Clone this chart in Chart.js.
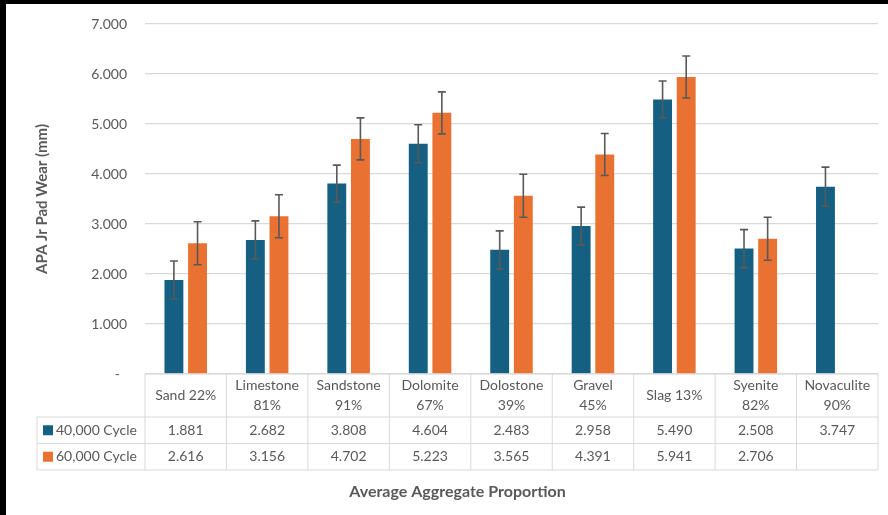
<!DOCTYPE html>
<html>
<head>
<meta charset="utf-8">
<script src="https://cdn.jsdelivr.net/npm/chart.js@4"></script>
<style>
  html, body { margin: 0; padding: 0; background: #000; }
  #wrap { position: absolute; left: 6px; top: 4px; width: 882px; height: 511px; background: #fff; }
</style>
</head>
<body>
<div id="wrap"><canvas id="chart" width="882" height="511"></canvas></div>
<script>
// Data
const categories = [
  ['Sand 22%'], ['Limestone', '81%'], ['Sandstone', '91%'], ['Dolomite', '67%'],
  ['Dolostone', '39%'], ['Gravel', '45%'], ['Slag 13%'], ['Syenite', '82%'], ['Novaculite', '90%']
];
const seriesNames = ['40,000 Cycle', '60,000 Cycle'];
const wear40k = [1.881, 2.682, 3.808, 4.604, 2.483, 2.958, 5.490, 2.508, 3.747];
const wear60k = [2.616, 3.156, 4.702, 5.223, 3.565, 4.391, 5.941, 2.706, null];
const err40k = [0.38, 0.38, 0.37, 0.38, 0.38, 0.38, 0.37, 0.38, 0.39];
const err60k = [0.43, 0.43, 0.42, 0.42, 0.43, 0.42, 0.42, 0.43, null];
const yTicks = [0, 1, 2, 3, 4, 5, 6, 7];

const colors = ['#156082', '#E97132'];
const textGray = '#595959';
const lineGray = '#d9d9d9';
const fontFamily = 'Lato, "Open Sans", sans-serif';

// error bars drawn over each bar
const errorBars = {
  id: 'errorBars',
  afterDatasetsDraw(chart) {
    const ctx = chart.ctx;
    const y = chart.scales.y;
    ctx.save();
    ctx.strokeStyle = '#595959';
    ctx.lineWidth = 1.6;
    chart.data.datasets.forEach((ds, di) => {
      const meta = chart.getDatasetMeta(di);
      meta.data.forEach((bar, i) => {
        const v = ds.data[i];
        const e = ds.errors[i];
        if (v == null || e == null) return;
        const top = y.getPixelForValue(v + e);
        const bot = y.getPixelForValue(v - e);
        ctx.beginPath();
        ctx.moveTo(bar.x, top); ctx.lineTo(bar.x, bot);
        ctx.moveTo(bar.x - 4, top); ctx.lineTo(bar.x + 4, top);
        ctx.moveTo(bar.x - 4, bot); ctx.lineTo(bar.x + 4, bot);
        ctx.stroke();
      });
    });
    ctx.restore();
  }
};

// Excel-style data table under the plot
const dataTable = {
  id: 'dataTable',
  afterDraw(chart) {
    const ctx = chart.ctx;
    const x = chart.scales.x;
    const area = chart.chartArea;
    const colW = (area.right - area.left) / categories.length;
    const headTop = area.bottom;
    const headBot = headTop + 43;
    const rowH = 26.5;
    const legendLeft = 31;
    const tableBot = headBot + rowH * 2;

    ctx.save();
    ctx.strokeStyle = lineGray;
    ctx.lineWidth = 1;
    ctx.beginPath();
    // horizontal lines
    ctx.moveTo(area.left, headTop); ctx.lineTo(area.right, headTop);
    for (let r = 0; r <= 2; r++) {
      const yy = headBot + r * rowH;
      ctx.moveTo(legendLeft, yy); ctx.lineTo(area.right, yy);
    }
    // vertical lines
    for (let c = 0; c <= categories.length; c++) {
      const xx = area.left + c * colW;
      ctx.moveTo(xx, headTop); ctx.lineTo(xx, tableBot);
    }
    ctx.moveTo(legendLeft, headBot); ctx.lineTo(legendLeft, tableBot);
    ctx.stroke();

    ctx.fillStyle = textGray;
    ctx.font = '14px ' + fontFamily;
    ctx.textAlign = 'center';
    ctx.textBaseline = 'middle';
    categories.forEach((lines, i) => {
      const cx = x.getPixelForValue(i);
      const mid = (headTop + headBot) / 2;
      lines.forEach((ln, k) => {
        const off = (k - (lines.length - 1) / 2) * 20;
        ctx.fillText(ln, cx, mid + off);
      });
    });

    [wear40k, wear60k].forEach((vals, r) => {
      const cy = headBot + r * rowH + rowH / 2;
      vals.forEach((v, i) => {
        if (v == null) return;
        ctx.fillText(v.toFixed(3), x.getPixelForValue(i), cy);
      });
      ctx.fillStyle = colors[r];
      ctx.fillRect(legendLeft + 6, cy - 5, 10, 10);
      ctx.fillStyle = textGray;
      ctx.textAlign = 'left';
      ctx.fillText(seriesNames[r], legendLeft + 19, cy);
      ctx.textAlign = 'center';
    });

    ctx.font = 'bold 16px ' + fontFamily;
    ctx.fillText('Average Aggregate Proportion', (legendLeft + area.right) / 2, tableBot + 22);
    ctx.restore();
  }
};

new Chart(document.getElementById('chart'), {
  type: 'bar',
  data: {
    labels: categories,
    datasets: [
      {
        label: seriesNames[0],
        data: wear40k,
        errors: err40k,
        backgroundColor: colors[0],
        categoryPercentage: 0.58,
        barPercentage: 0.8
      },
      {
        label: seriesNames[1],
        data: wear60k,
        errors: err60k,
        backgroundColor: colors[1],
        categoryPercentage: 0.58,
        barPercentage: 0.8
      }
    ]
  },
  options: {
    responsive: false,
    animation: false,
    layout: { padding: { left: 0, right: 10, top: 20, bottom: 141 } },
    plugins: {
      legend: { display: false },
      tooltip: { enabled: false }
    },
    scales: {
      x: { display: false },
      y: {
        min: yTicks[0],
        max: yTicks[yTicks.length - 1],
        afterBuildTicks: (scale) => { scale.ticks = yTicks.map(v => ({ value: v })); },
        afterFit: (scale) => {
          scale.width = 139;
          scale.paddingTop = 0;
          scale.paddingBottom = 0;
        },
        border: { display: false },
        grid: { color: lineGray, lineWidth: 1.3, drawTicks: false },
        ticks: {
          padding: 18,
          color: textGray,
          font: { family: fontFamily, size: 14 },
          callback: (v) => v === 0 ? '-  ' : v.toFixed(3)
        },
        title: {
          display: true,
          text: 'APA Jr Pad Wear (mm)',
          color: textGray,
          font: { family: fontFamily, size: 15, weight: 'bold' },
          padding: { top: 27, bottom: 0 }
        }
      }
    }
  },
  plugins: [errorBars, dataTable]
});
</script>
</body>
</html>
